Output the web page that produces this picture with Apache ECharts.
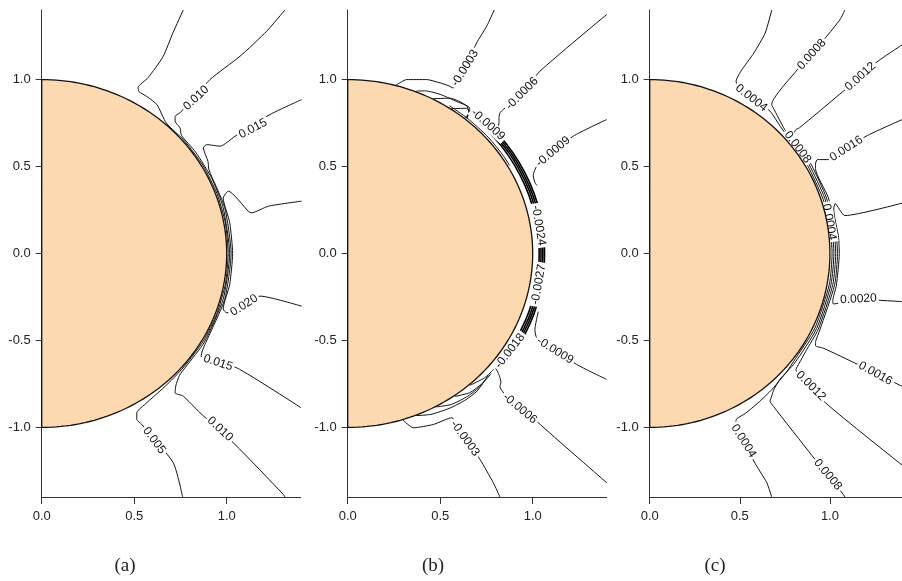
<!DOCTYPE html>
<html><head><meta charset="utf-8">
<script src="https://cdn.jsdelivr.net/npm/echarts@6/dist/echarts.min.js"></script>
<style>html,body{margin:0;padding:0;background:#fff}#c{width:902px;height:581px}</style>
</head><body><div id="c"></div>
<script>
// ---- axis ticks ----
const xTicks = [0, 0.5, 1.0];
const yTicks = [-1.0, -0.5, 0, 0.5, 1.0];
const panelTitles = ['(a)', '(b)', '(c)'];
const SURFACE_R = 1.0;

// ---- panel (a) contours ----
const a_c005 = [[0.765,1.40],[0.710,1.270],[0.656,1.132],[0.575,1.011],[0.521,0.954],[0.526,0.931],[0.569,0.902],[0.623,0.856],[0.674,0.749],[0.772,0.648],[0.873,0.504],[0.947,0.345],[0.993,0.175],[1.008,0],[0.993,-0.175],[0.947,-0.345],[0.873,-0.504],[0.772,-0.648],[0.700,-0.730],[0.639,-0.791],[0.568,-0.858],[0.514,-0.916],[0.514,-0.954],[0.541,-0.983],[0.711,-1.203],[0.762,-1.40]];
const a_c010 = [[1.315,1.40],[1.216,1.278],[1.072,1.134],[0.910,1.0],[0.748,0.809],[0.721,0.789],[0.721,0.760],[0.748,0.722],[0.755,0.680],[0.832,0.583],[0.921,0.429],[0.981,0.263],[1.016,0],[0.981,-0.263],[0.880,-0.508],[0.778,-0.653],[0.745,-0.700],[0.725,-0.760],[0.721,-0.801],[0.765,-0.820],[0.856,-0.916],[1.045,-1.098],[1.306,-1.385],[1.315,-1.40]];
const a_c015 = [[1.405,0.885],[1.234,0.799],[1.045,0.674],[0.964,0.617],[0.892,0.626],[0.874,0.607],[0.899,0.529],[0.904,0.481],[0.989,0.265],[1.024,0],[0.989,-0.265],[0.887,-0.512],[0.868,-0.560],[0.862,-0.592],[0.875,-0.600],[1.054,-0.657],[1.402,-0.887]];
const a_c020 = [[1.405,0.301],[1.225,0.272],[1.135,0.234],[1.117,0.243],[1.009,0.358],[1.0,0.352],[0.981,0.319],[1.016,0.179],[1.032,0],[1.016,-0.179],[0.981,-0.319],[1.0,-0.341],[1.18,-0.245],[1.405,-0.303]];
const a_labels = [['0.010',0.835,0.894,43],['0.015',1.142,0.718,28],['0.020',1.094,-0.298,33],['0.015',0.953,-0.628,-18],['0.010',0.964,-1.010,-43],['0.005',0.608,-1.075,-53]];

// ---- panel (b) contours ----
const b_c0003u = [[0.792,1.40],[0.751,1.306],[0.697,1.211],[0.634,1.066],[0.571,0.952],[0.542,0.966],[0.499,0.981],[0.427,1.0],[0.319,1.0],[0.262,0.968]];
const b_tu1 = [[0.37,0.934],[0.42,0.935],[0.50,0.915],[0.58,0.878],[0.66,0.835],[0.645,0.775]];
const b_tu2 = [[0.46,0.890],[0.553,0.893],[0.643,0.850],[0.655,0.81],[0.635,0.781]];
const b_tu3 = [[0.56,0.833],[0.643,0.835],[0.661,0.812],[0.64,0.778]];
const b_h1 = [[0.55,0.85],[0.650,0.775],[0.752,0.677],[0.829,0.580],[0.876,0.506]];
const b_c0006u = [[1.40,1.374],[1.039,1.048],[0.942,0.920],[0.841,0.828],[0.823,0.809],[0.818,0.782],[0.818,0.751],[0.810,0.725]];
const b_c0009u = [[1.40,0.770],[1.219,0.674],[1.022,0.502],[1.003,0.448],[1.012,0.408],[1.023,0.391]];
const b_band1 = [[0.706,0.757],[0.793,0.665],[0.868,0.564],[0.930,0.453],[0.979,0.337],[1.012,0.215],[1.031,0.090],[1.035,0],[1.031,-0.090],[1.012,-0.215],[0.979,-0.337],[0.930,-0.453],[0.868,-0.564],[0.827,-0.623]];
const b_band2 = [[0.713,0.764],[0.800,0.672],[0.877,0.570],[0.939,0.458],[0.989,0.341],[1.022,0.217],[1.041,0.091],[1.045,0],[1.041,-0.091],[1.022,-0.217],[0.989,-0.341],[0.939,-0.458],[0.877,-0.570],[0.835,-0.629]];
const b_band3 = [[0.720,0.771],[0.808,0.678],[0.885,0.575],[0.948,0.462],[0.998,0.344],[1.032,0.219],[1.051,0.092],[1.055,0],[1.051,-0.092],[1.032,-0.219],[0.998,-0.344],[0.948,-0.462],[0.885,-0.575],[0.843,-0.635]];
const b_band4 = [[0.726,0.778],[0.815,0.684],[0.893,0.580],[0.957,0.466],[1.007,0.347],[1.041,0.221],[1.060,0.093],[1.064,0],[1.060,-0.093],[1.041,-0.221],[1.007,-0.347],[0.957,-0.466],[0.893,-0.580],[0.850,-0.640]];
const b_c0009l = [[1.03,-0.335],[1.012,-0.437],[1.022,-0.484],[1.238,-0.638],[1.40,-0.724]];
const b_c0006l = [[0.80,-0.66],[0.815,-0.69],[0.823,-0.714],[0.828,-0.74],[0.823,-0.763],[1.030,-0.973],[1.40,-1.318]];
const b_c0003l = [[0.823,-1.40],[0.787,-1.318],[0.715,-1.184],[0.634,-1.063],[0.562,-0.944],[0.463,-0.983],[0.355,-1.002],[0.298,-0.957]];
const b_tl1 = [[0.37,-0.932],[0.45,-0.925],[0.55,-0.89],[0.64,-0.84],[0.70,-0.79],[0.74,-0.73]];
const b_tl2 = [[0.48,-0.882],[0.56,-0.868],[0.65,-0.82],[0.72,-0.76],[0.76,-0.70]];
const b_tl3 = [[0.58,-0.822],[0.66,-0.80],[0.73,-0.745],[0.775,-0.69]];
const b_tl4 = [[0.66,-0.758],[0.74,-0.715],[0.79,-0.665]];
const b_labels = [['-0.0003',0.634,1.066,58],['-0.0006',0.942,0.920,45],['-0.0009',0.758,0.741,-42],['-0.0009',1.11,0.585,40],['-0.0024',1.032,0.161,-81],['-0.0027',1.032,-0.178,80],['-0.0018',0.877,-0.560,52],['-0.0009',1.121,-0.558,-32],['-0.0006',0.931,-0.891,-40],['-0.0003',0.634,-1.063,-54]];

// ---- panel (c) contours ----
const c_c0004 = [[0.677,1.40],[0.641,1.268],[0.578,1.153],[0.506,1.048],[0.479,0.990],[0.488,0.971],[0.668,0.818],[0.725,0.730],[0.790,0.640],[0.876,0.506],[0.962,0.313],[1.002,0.141],[1.012,0],[0.997,-0.176],[0.917,-0.428],[0.797,-0.623],[0.76,-0.68],[0.68,-0.78],[0.60,-0.86],[0.53,-0.92],[0.485,-0.948],[0.479,-0.960],[0.480,-0.972],[0.578,-1.194],[0.650,-1.318],[0.677,-1.40]];
const c_c0008 = [[1.083,1.40],[1.056,1.345],[0.975,1.240],[0.812,1.048],[0.677,0.856],[0.686,0.837],[0.749,0.713],[0.821,0.612],[0.885,0.511],[0.972,0.316],[1.012,0.142],[1.022,0],[1.006,-0.177],[0.926,-0.432],[0.805,-0.629],[0.723,-0.723],[0.69,-0.78],[0.677,-0.820],[0.668,-0.849],[0.686,-0.878],[0.903,-1.165],[1.074,-1.385],[1.083,-1.40]];
const c_c0012 = [[1.405,1.203],[1.254,1.096],[1.074,0.933],[0.830,0.722],[0.812,0.713],[0.800,0.690],[0.813,0.635],[0.894,0.516],[0.981,0.319],[1.022,0.144],[1.032,0],[1.016,-0.179],[0.935,-0.436],[0.866,-0.562],[0.83,-0.63],[0.812,-0.667],[0.975,-0.858],[1.405,-1.220]];
const c_c0016 = [[1.405,0.772],[1.2,0.674],[0.992,0.540],[0.930,0.540],[0.921,0.521],[0.920,0.489],[0.991,0.322],[1.032,0.145],[1.042,0],[1.026,-0.181],[0.944,-0.440],[0.921,-0.505],[0.920,-0.530],[0.965,-0.545],[1.155,-0.638],[1.405,-0.766]];
const c_c0020 = [[1.405,0.291],[1.083,0.218],[1.029,0.287],[1.021,0.255],[1.048,0.092],[1.052,0],[1.036,-0.183],[1.016,-0.272],[1.019,-0.290],[1.158,-0.264],[1.405,-0.277]];
const c_labels = [['0.0004',0.564,0.894,-38],['0.0008',0.899,1.145,48],['0.0012',1.169,1.017,42],['0.0016',1.091,0.603,33],['0.0008',0.821,0.612,-53],['0.0004',0.996,0.181,-80],['0.0020',1.158,-0.262,3],['0.0016',1.253,-0.690,-29],['0.0012',0.894,-0.761,-45],['0.0008',0.988,-1.272,-50],['0.0004',0.521,-1.078,-58]];

const panels = [
  {lines:[a_c005,a_c010,a_c015,a_c020], thick:[], labels:a_labels},
  {lines:[b_c0003u,b_tu1,b_tu2,b_tu3,b_h1,b_c0006u,b_c0009u,b_c0009l,b_c0006l,b_c0003l,b_tl1,b_tl2,b_tl3,b_tl4], thick:[b_band1,b_band2,b_band3,b_band4], labels:b_labels},
  {lines:[c_c0004,c_c0008,c_c0012,c_c0016,c_c0020], thick:[], labels:c_labels}
];

const gridLefts = [41.7, 347.7, 649.7];
const titleX = [125, 433, 715];
const FONT = '"Liberation Sans", Arial, sans-serif';

const grids = [], xAxes = [], yAxes = [], series = [], graphics = [];
panels.forEach((p, i) => {
  grids.push({left: gridLefts[i], top: 10, width: 259, height: 487, containLabel: false});
  xAxes.push({type:'value', gridIndex:i, min:0, max:1.4,
    axisLine:{show:true, onZero:false, lineStyle:{color:'#333', width:1}},
    axisTick:{show:true, length:7, customValues:xTicks, lineStyle:{color:'#333'}},
    axisLabel:{customValues:xTicks, formatter:v=>v.toFixed(1), fontSize:13, color:'#222', margin:13, fontFamily:FONT},
    splitLine:{show:false}});
  yAxes.push({type:'value', gridIndex:i, min:-1.4, max:1.4,
    axisLine:{show:true, onZero:false, lineStyle:{color:'#333', width:1}},
    axisTick:{show:true, length:6, customValues:yTicks, lineStyle:{color:'#333'}},
    axisLabel:{customValues:yTicks, formatter:v=>v.toFixed(1), fontSize:13, color:'#222', margin:11, fontFamily:FONT},
    splitLine:{show:false}});
  p.lines.forEach(d => series.push({type:'line', xAxisIndex:i, yAxisIndex:i, data:d, showSymbol:false, symbol:'none', smooth:0.2, silent:true, z:2,
    lineStyle:{color:'#111', width:1}}));
  p.thick.forEach(d => series.push({type:'line', xAxisIndex:i, yAxisIndex:i, data:d, showSymbol:false, symbol:'none', smooth:0.2, silent:true, z:2,
    lineStyle:{color:'#000', width:1.6}}));
  series.push({type:'scatter', xAxisIndex:i, yAxisIndex:i, symbol:'circle', symbolSize:0, silent:true, z:3,
    itemStyle:{color:'#ffffff', opacity:1},
    data:p.labels.map(l => ({name:l[0], value:[l[1], l[2]], label:{rotate:l[3]}})),
    label:{show:true, position:'inside', formatter:'{b}', fontSize:12, color:'#111', fontFamily:FONT,
      textBorderWidth:0, textBorderColor:'transparent', textShadowBlur:0, opacity:1,
      backgroundColor:'#fff', padding:[0,2]}});
  series.push({type:'custom', xAxisIndex:i, yAxisIndex:i, data:[[0,0]], silent:true, z:5,
    renderItem:(params, api) => {
      const pts = [];
      for (let a = -90; a <= 90; a += 1.5) {
        const t = a * Math.PI / 180;
        pts.push(api.coord([SURFACE_R * Math.cos(t), SURFACE_R * Math.sin(t)]));
      }
      return {type:'polygon', shape:{points:pts}, style:{fill:'#fcd9b1', stroke:'#111', lineWidth:1.3}};
    }});
  graphics.push({type:'text', x: titleX[i], y: 566, style:{text: panelTitles[i], font:'19px "Liberation Serif", "Times New Roman", serif', fill:'#222', textAlign:'center', textVerticalAlign:'middle'}});
});

const chart = echarts.init(document.getElementById('c'), null, {renderer:'canvas'});
chart.setOption({animation:false, backgroundColor:'#fff', grid:grids, xAxis:xAxes, yAxis:yAxes, series:series, graphic:graphics});
</script></body></html>
